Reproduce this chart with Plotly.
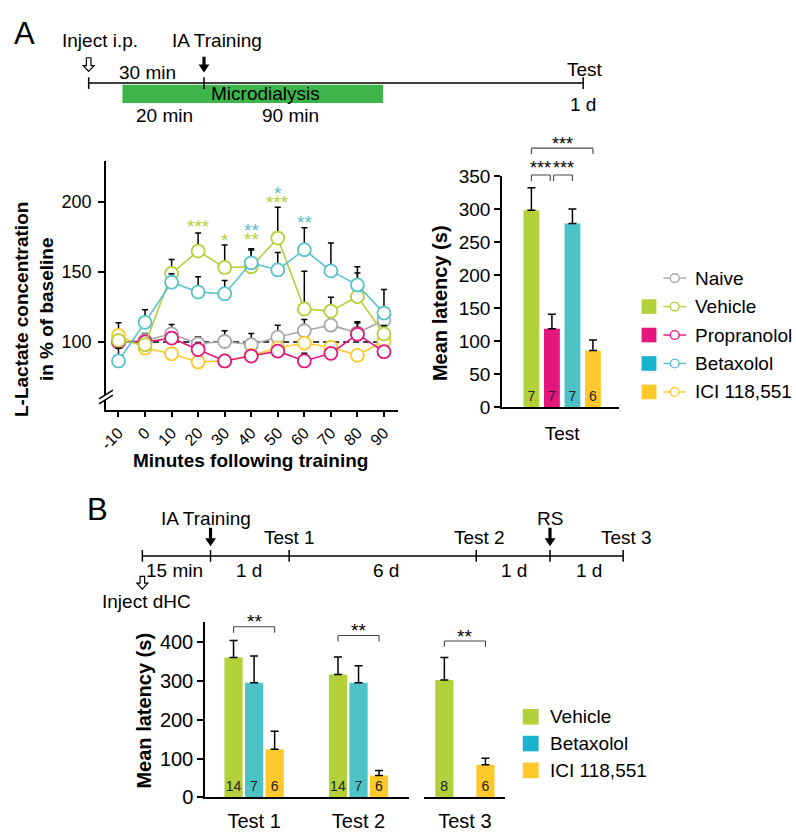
import plotly.graph_objects as go

W, H = 796, 835
FONT = "Liberation Sans, Arial, Helvetica, sans-serif"

# ---------------- data: panel A, microdialysis ----------------
minutes = [-10, 0, 10, 20, 30, 40, 50, 60, 70, 80, 90]
naive = [100, 101, 105.7, 98.7, 100.3, 98, 103.4, 108, 112, 106.5, 115.5]
naive_err = [4, 5, 6.7, 5, 7.7, 8, 8.6, 8, 6, 7, 5]
vehicle = [101, 98, 149, 165, 153.3, 153.8, 174.3, 123.6, 122, 132.4, 105.7]
vehicle_err = [4, 4, 10, 13, 16, 12, 22, 27, 10, 17, 6]
propranolol = [100, 100, 102.7, 94.5, 86.4, 89.9, 93.4, 86.4, 91.8, 105.5, 93]
propranolol_err = [3, 3, 4, 5, 4, 3, 4, 5.4, 4, 9, 4]
betaxolol = [86.4, 114, 142.7, 135.7, 134.5, 156.6, 151.5, 166, 150.8, 140.8, 120.6]
betaxolol_err = [9, 9, 6, 11, 9.5, 10, 12.5, 15.7, 20, 13, 17]
ici = [104.7, 95.7, 91.5, 85.7, 86.4, 90.4, 95.7, 99.2, 96.2, 90.4, 100.8]
ici_err = [9, 3, 3, 3, 3, 3, 3, 3, 3, 3, 3]
lactate_ticks = [100, 150, 200]

sig_minutes = [20, 30, 40, 40, 50, 50, 60]
sig_values = [186, 176, 183, 177, 209.6, 203, 188.7]
sig_text = ["***", "*", "**", "**", "*", "***", "**"]
sig_group = ["Vehicle", "Vehicle", "Betaxolol", "Vehicle", "Betaxolol", "Vehicle", "Betaxolol"]

# ---------------- data: panel A, latency ----------------
groupsA = ["Vehicle", "Propranolol", "Betaxolol", "ICI 118,551"]
latencyA = [298, 119, 278, 86]
latencyA_err = [34, 22, 22, 16]
nA = [7, 7, 7, 6]
latencyA_ticks = [0, 50, 100, 150, 200, 250, 300, 350]

# ---------------- data: panel B ----------------
testsB = ["Test 1", "Test 2", "Test 3"]
vehicleB = [360, 316, 302]
vehicleB_err = [44, 45, 58]
vehicleB_n = [14, 14, 8]
betaxololB = [295, 295, None]
betaxololB_err = [69, 44, 0]
betaxololB_n = [7, 7, None]
iciB = [124, 56, 84]
iciB_err = [46, 13, 17]
iciB_n = [6, 6, 6]
latencyB_ticks = [0, 100, 200, 300, 400]

# ---------------- styling ----------------
C_NAIVE = "#A9A9A9"
C_VEH = "#B4D03A"
C_PROP = "#E4177E"
C_BETA_LINE = "#58C3C9"
C_BETA_BAR = "#4CC2C6"
C_BETA_SQ = "#17B3CF"
C_ICI = "#FFC82B"
C_GREEN = "#3DB54A"
line_colors = {"Naive": C_NAIVE, "Vehicle": C_VEH, "Propranolol": C_PROP,
               "Betaxolol": C_BETA_LINE, "ICI 118,551": C_ICI}
barA_colors = [C_VEH, C_PROP, C_BETA_BAR, C_ICI]
BARGAP = 0.41


def px(x):
    return x / W


def py(y):
    return 1 - y / H


fig = go.Figure()

# ---------------- line chart ----------------
series = [("Naive", naive, naive_err), ("ICI 118,551", ici, ici_err),
          ("Propranolol", propranolol, propranolol_err),
          ("Vehicle", vehicle, vehicle_err), ("Betaxolol", betaxolol, betaxolol_err)]
for name, ys, es in series:
    col = line_colors[name]
    fig.add_trace(go.Scatter(
        x=minutes, y=ys, mode="lines+markers", name=name, showlegend=False,
        line=dict(color=col, width=1.6),
        marker=dict(symbol="circle", size=13, color="white", line=dict(color=col, width=1.8)),
        error_y=dict(type="data", symmetric=False, array=es, arrayminus=[0] * len(es),
                     color="black", thickness=1.5, width=3),
        cliponaxis=False, xaxis="x", yaxis="y"))

# ---------------- bar chart A ----------------
for g, v, e, n, c in zip(groupsA, latencyA, latencyA_err, nA, barA_colors):
    fig.add_trace(go.Bar(
        x=["Test"], y=[v], name=g, showlegend=False, width=0.114,
        marker=dict(color=c, line=dict(width=0)),
        error_y=dict(type="data", symmetric=False, array=[e], arrayminus=[0],
                     color="black", thickness=1.5, width=4),
        text=[str(n)], textposition="inside", insidetextanchor="start", textangle=0,
        constraintext="none", textfont=dict(size=14, color="#222", family=FONT),
        xaxis="x2", yaxis="y2"))

# ---------------- bar chart B ----------------
groupsB = [("Vehicle", vehicleB, vehicleB_err, vehicleB_n, C_VEH),
           ("Betaxolol", betaxololB, betaxololB_err, betaxololB_n, C_BETA_BAR),
           ("ICI 118,551", iciB, iciB_err, iciB_n, C_ICI)]
for sl, xa, ya in [(slice(0, 2), "x3", "y3"), (slice(2, 3), "x4", "y4")]:
    for g, vals, errs, ns, c in groupsB:
        fig.add_trace(go.Bar(
            x=testsB[sl], y=vals[sl], name=g, showlegend=False, width=0.174,
            marker=dict(color=c, line=dict(width=0)),
            error_y=dict(type="data", symmetric=False, array=[e or 0 for e in errs[sl]],
                         arrayminus=[0] * len(errs[sl]), color="black", thickness=1.5, width=4),
            text=[str(n) if n else "" for n in ns[sl]], textposition="inside",
            insidetextanchor="start", textangle=0, constraintext="none",
            textfont=dict(size=14, color="#222", family=FONT),
            xaxis=xa, yaxis=ya))

shapes = []
annotations = []


def txt(x, y, s, size=19, anchor="center", **kw):
    annotations.append(dict(x=px(x), y=py(y), xref="paper", yref="paper", text=s,
                            showarrow=False, xanchor=anchor, yanchor="middle",
                            font=dict(size=size, color="black", family=FONT), **kw))


def seg(x0, y0, x1, y1, w=1.5, color="black", dash=None):
    d = dict(type="line", xref="paper", yref="paper", x0=px(x0), y0=py(y0),
             x1=px(x1), y1=py(y1), line=dict(color=color, width=w), layer="above")
    if dash:
        d["line"]["dash"] = dash
    shapes.append(d)


def poly(pts, fill, lw=0, lc="black"):
    path = "M " + " L ".join(f"{px(a):.5f},{py(b):.5f}" for a, b in pts) + " Z"
    shapes.append(dict(type="path", xref="paper", yref="paper", path=path,
                       fillcolor=fill, line=dict(color=lc, width=lw), layer="above"))


def down_arrow(xc, ytop, ytip, hollow=False):
    if hollow:
        sw, hw, hh = 2.3, 5.5, 6
    else:
        sw, hw, hh = 1.6, 5.5, 8
    pts = [(xc - sw, ytop), (xc + sw, ytop), (xc + sw, ytip - hh), (xc + hw, ytip - hh),
           (xc, ytip), (xc - hw, ytip - hh), (xc - sw, ytip - hh)]
    if hollow:
        poly(pts, "white", lw=1.2)
    else:
        poly(pts, "black")


# dashed baseline at 100 %
shapes.append(dict(type="line", xref="x", yref="y", x0=-12, x1=93, y0=100, y1=100,
                   line=dict(color="black", width=1.5, dash="6px,4px"), layer="below"))

# axis break on the lactate y axis
poly([(92, 399), (106, 390), (106, 395), (92, 404)], "white")
seg(92, 399, 106, 390)
seg(92, 404, 106, 395)

# significance stars on line chart
for m, v, s, g in zip(sig_minutes, sig_values, sig_text, sig_group):
    annotations.append(dict(x=m, y=v, xref="x", yref="y", text=s, showarrow=False,
                            yshift=-5, font=dict(size=19, color=line_colors[g], family=FONT)))

# brackets, panel A bar chart (positions from bar geometry)
wA = 1 - BARGAP
slotA = wA / len(groupsA)
cA = [-wA / 2 + slotA * (i + 0.5) for i in range(len(groupsA))]


def bracket(xref, xa, xb, ytop, drop, label, label_y, size=18):
    for (x0, y0, x1, y1) in [(xa, ytop + drop, xa, ytop), (xa, ytop, xb, ytop), (xb, ytop, xb, ytop + drop)]:
        shapes.append(dict(type="line", xref=xref, yref="paper", x0=x0, x1=x1,
                           y0=py(y0), y1=py(y1), line=dict(color="#444", width=1.1), layer="above"))
    annotations.append(dict(x=(xa + xb) / 2, y=py(label_y), xref=xref, yref="paper", text=label,
                            showarrow=False, yanchor="middle", yshift=-4,
                            font=dict(size=size, color="black", family=FONT)))


bracket("x2", cA[0], cA[3], 141.7, 6, "***", 133)
bracket("x2", cA[0], cA[1] - 0.012, 169.3, 6, "***", 158)
bracket("x2", cA[1] + 0.012, cA[2], 169.3, 6, "***", 158)

# brackets, panel B
slotB = (1 - BARGAP) / 3
bracket("x3", 0 - slotB, 0 + slotB, 632.7, 6, "**", 623.3, 19)
bracket("x3", 1 - slotB, 1 + slotB, 641.7, 6, "**", 632.7, 19)
bracket("x4", 0 - slotB, 0 + slotB, 647.3, 6, "**", 638.3, 19)

# ---------------- panel A timeline ----------------
txt(17, 24, "A", size=31)
seg(81.5, 75, 581, 75)
for xt in [81.5, 198, 581]:
    seg(xt, 69, xt, 81)
shapes.append(dict(type="rect", xref="paper", yref="paper", x0=px(115.6), x1=px(378.8),
                   y0=py(95.5), y1=py(76.8), fillcolor=C_GREEN, line=dict(width=0), layer="below"))
down_arrow(81.5, 49, 63, hollow=True)
down_arrow(198, 48, 64)
txt(92.5, 31, "Inject i.p.")
txt(211, 31, "IA Training")
txt(140.6, 64, "30 min")
txt(260.5, 86, "Microdialysis")
txt(158, 108, "20 min")
txt(285.5, 108, "90 min")
txt(583, 61, "Test")
txt(580.7, 97, "1 d")

# ---------------- panel B timeline ----------------
txt(90, 512, "B", size=31)
tB = [135.7, 204.6, 284, 473, 547.5, 621.4]
seg(tB[0], 560, tB[-1], 560)
for xt in tB:
    seg(xt, 554, xt, 566)
down_arrow(204.6, 531, 550)
down_arrow(547.5, 531, 550)
down_arrow(135.7, 581, 594, hollow=True)
txt(200, 522, "IA Training")
txt(284, 541, "Test 1")
txt(476, 541, "Test 2")
txt(547.5, 522, "RS")
txt(625, 541, "Test 3")
txt(168, 575, "15 min")
txt(243, 575, "1 d")
txt(382, 575, "6 d")
txt(511, 575, "1 d")
txt(587, 575, "1 d")
txt(140, 607, "Inject dHC")

# ---------------- axis titles ----------------
txt(27, 307, "<b>L-Lactate concentration</b><br><b>in % of baseline</b>", size=19, textangle=-90)
txt(245, 462, "<b>Minutes following training</b>", size=19)
txt(437, 301, "<b>Mean latency (s)</b>", size=20, textangle=-90)
txt(137, 719, "<b>Mean latency (s)</b>", size=20, textangle=-90)

# ---------------- legends ----------------
legA = ["Naive", "Vehicle", "Propranolol", "Betaxolol", "ICI 118,551"]
legA_sq = [None, C_VEH, C_PROP, C_BETA_SQ, C_ICI]
for i, (name, sq) in enumerate(zip(legA, legA_sq)):
    yc = 275 + 29.2 * i
    col = line_colors[name]
    if sq:
        shapes.append(dict(type="rect", xref="paper", yref="paper", x0=px(640), x1=px(655),
                           y0=py(yc + 7.5), y1=py(yc - 7.5), fillcolor=sq, line=dict(width=0)))
    seg(662, yc, 685, yc, w=1.4, color=col)
    shapes.append(dict(type="circle", xref="paper", yref="paper", x0=px(669), x1=px(678),
                       y0=py(yc + 4.5), y1=py(yc - 4.5), fillcolor="white",
                       line=dict(color=col, width=1.4), layer="above"))
    txt(692, yc, name, size=19, anchor="left")

legB = ["Vehicle", "Betaxolol", "ICI 118,551"]
legB_sq = [C_VEH, C_BETA_SQ, C_ICI]
for i, (name, sq) in enumerate(zip(legB, legB_sq)):
    yc = 725 + 27.5 * i
    shapes.append(dict(type="rect", xref="paper", yref="paper", x0=px(520), x1=px(536),
                       y0=py(yc + 8), y1=py(yc - 8), fillcolor=sq, line=dict(width=0)))
    txt(545, yc, name, size=19, anchor="left")

# ---------------- axes ----------------
ax = dict(showline=True, linecolor="black", linewidth=1.5, ticks="outside", ticklen=6,
          tickwidth=1.5, tickcolor="black", showgrid=False, zeroline=False,
          tickfont=dict(size=18, color="black", family=FONT))

fig.update_layout(
    width=W, height=H, margin=dict(l=0, r=0, t=0, b=0),
    paper_bgcolor="white", plot_bgcolor="white", showlegend=False,
    barmode="group", bargap=BARGAP, bargroupgap=0,
    font=dict(family=FONT, color="black"),
    xaxis=dict(ax, domain=[px(99), px(394)], anchor="y", range=[-14.7, 95.3],
               tickvals=minutes, ticktext=[str(m) for m in minutes], tickangle=-45,
               ticklabelstandoff=0,
               tickfont=dict(size=16, color="black", family=FONT)),
    yaxis=dict(ax, domain=[py(410), py(155)], anchor="x", range=[51.5, 229.4],
               tickvals=lactate_ticks, ticklabelstandoff=3),
    xaxis2=dict(ax, domain=[px(499), px(617)], anchor="y2", type="category",
                range=[-0.4327, 0.4071], ticks="", ticklabelstandoff=8,
                tickfont=dict(size=19, color="black", family=FONT)),
    yaxis2=dict(ax, domain=[py(407.7), py(170)], anchor="x2", range=[0, 350.3],
                tickvals=latencyA_ticks, tickfont=dict(size=19, color="black", family=FONT)),
    xaxis3=dict(ax, domain=[px(199), px(405)], anchor="y3", type="category",
                range=[-0.470, 1.4825], ticks="", ticklabelstandoff=5,
                tickfont=dict(size=20, color="black", family=FONT)),
    yaxis3=dict(ax, domain=[py(807.7), py(628.3)], anchor="x3", range=[0, 450],
                tickvals=latencyB_ticks, tickfont=dict(size=20, color="black", family=FONT)),
    xaxis4=dict(ax, domain=[px(420.7), px(501.7)], anchor="y4", type="category",
                range=[-0.387, 0.3806], ticks="", ticklabelstandoff=5,
                tickfont=dict(size=20, color="black", family=FONT)),
    yaxis4=dict(domain=[py(807.7), py(628.3)], anchor="x4", range=[0, 450], visible=False),
    shapes=shapes, annotations=annotations,
)

fig.write_html("out.html", config={"displayModeBar": False},
               post_script="document.body.style.margin='0px';document.body.style.overflow='hidden';")
